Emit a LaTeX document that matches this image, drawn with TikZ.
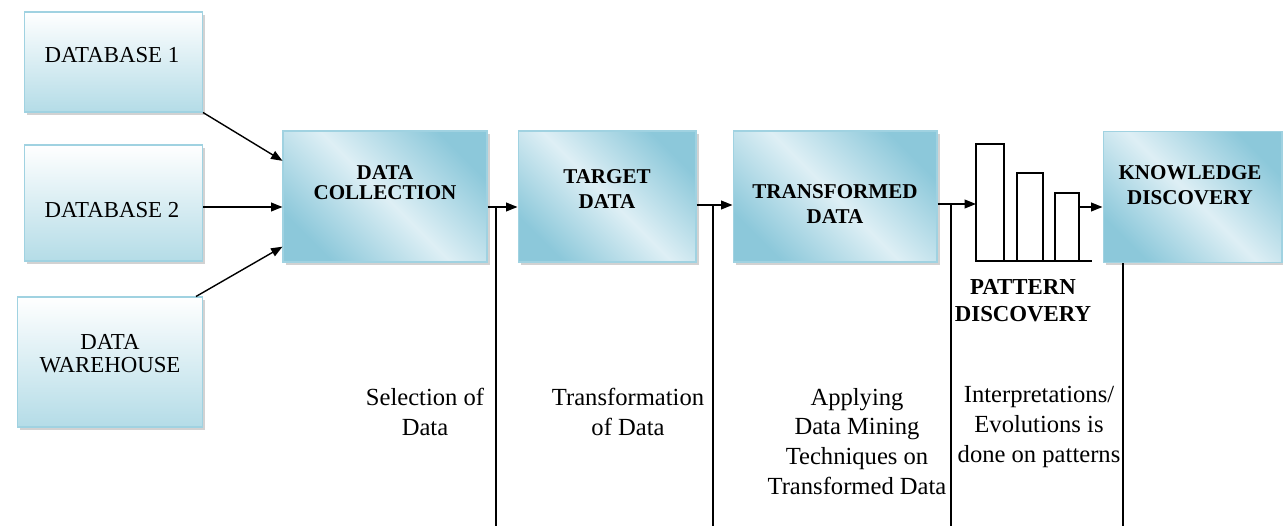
\documentclass[tikz,border=0pt]{standalone}
\usepackage{fontspec}
\setmainfont{Liberation Serif}
\usetikzlibrary{arrows.meta,shadows,calc}
\definecolor{boxline}{RGB}{160,210,225}
\definecolor{dbblue}{RGB}{180,220,231}
\definecolor{boxdark}{RGB}{140,200,218}
\definecolor{boxlight}{RGB}{222,239,245}

\begin{document}
\begin{tikzpicture}[x=0.02cm,y=-0.02cm,>={Triangle[length=6.5pt,width=5pt]},
  shadowed/.style={draw=boxline,line width=0.6pt,inner sep=0pt,
    drop shadow={shadow xshift=1.6pt,shadow yshift=-1.6pt,fill=black!35}},
  source/.style={shadowed,top color=white,bottom color=dbblue,minimum width=3.56cm},
  stage/.style={shadowed,left color=boxdark,right color=boxdark,middle color=boxlight,
    shading angle=-45,minimum height=2.62cm},
  srctext/.style={font=\fontsize{13}{13}\selectfont,align=center,inner sep=0pt},
  stagetext/.style={font=\fontsize{12}{14}\selectfont\bfseries,align=center,inner sep=0pt},
  note/.style={font=\fontsize{14}{17}\selectfont,align=center,inner sep=0pt}]
\useasboundingbox (0,0) rectangle (1283,526);

% sources
\node[source,minimum height=2cm] (db1) at (113.5,62) {};
\node[srctext] (db1t) at (112,55) {DATABASE 1};
\node[source,minimum height=2.32cm] (db2) at (113.5,203) {};
\node[srctext] (db2t) at (112,210) {DATABASE 2};
\node[source,minimum width=3.7cm,minimum height=2.6cm] (dw) at (110,362) {};
\node[srctext] (dwt) at (110,354) {DATA\\WAREHOUSE};

% stages
\node[stage,minimum width=4.08cm] (coll) at (385,196.5) {};
\node[stagetext,font=\fontsize{12}{11.5}\selectfont\bfseries] (collt) at (385,183) {DATA\\COLLECTION};
\node[stage,minimum width=3.56cm] (target) at (607,196.5) {};
\node[stagetext] (targett) at (607,189) {TARGET\\DATA};
\node[stage,minimum width=4.08cm] (transf) at (835,196.5) {};
\node[stagetext] (transft) at (835,204) {TRANSFORMED\\DATA};
\node[stage,minimum width=3.58cm] (know) at (1192.5,197) {};
\node[stagetext] (knowt) at (1190,185) {KNOWLEDGE\\DISCOVERY};

% pattern bars
\draw[thick] (976,261) rectangle (1004,144);
\draw[thick] (1017,261) rectangle (1043,173);
\draw[thick] (1055,261) rectangle (1079,193);
\draw[thick] (976,261) -- (1092,261);
\coordinate (bars) at (976,204);
\coordinate (bar3) at (1079,207);
\node[stagetext,font=\fontsize{13}{15.3}\selectfont\bfseries] (patt) at (1023,301) {PATTERN\\DISCOVERY};

% arrows
\draw[->,thick] (db1.south east) -- ($(coll.north west)!0.23!(coll.south west)$);
\draw[->,thick] (db2.east |- 0,207) -- (coll.west |- 0,207);
\draw[->,thick] ([xshift=-0.14cm]dw.north east) -- ($(coll.north west)!0.88!(coll.south west)$);
\draw[->,thick] (coll.east |- 0,207) -- (target.west |- 0,207);
\draw[->,thick] (target.east |- 0,205) -- (transf.west |- 0,205);
\draw[->,thick] (transf.east |- bars) -- (bars);
\draw[->,thick] (bar3) -- (know.west |- bar3);

% step lines
\coordinate (s1) at (496,207);
\coordinate (s2) at (713,205);
\coordinate (s3) at (951,204);
\coordinate (s4) at (know.south -| 1123,0);
\foreach \s in {s1,s2,s3,s4}
  \draw[thick] (\s) -- (\s |- 0,526);

\node[note] (sel) at (425,412) {Selection of\\Data};
\node[note] (trf) at (628,412) {Transformation\\of Data};
\node[note] (apply) at (857,441.5) {Applying\\Data Mining\\Techniques on\\Transformed Data};
\node[note] (interp) at (1039,427) {Interpretations/\\Evolutions is\\done on patterns};
\end{tikzpicture}
\end{document}
